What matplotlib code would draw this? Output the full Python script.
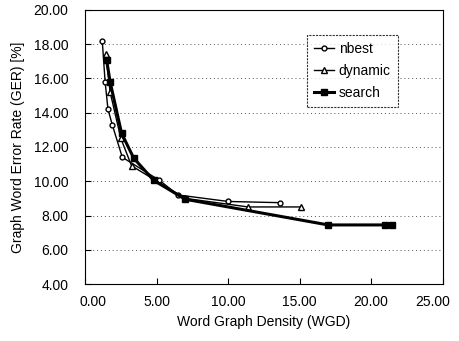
import matplotlib
matplotlib.use("Agg")
import matplotlib.pyplot as plt
from matplotlib.transforms import ScaledTranslation

plt.rcParams['font.family'] = ['Liberation Sans', 'DejaVu Sans']

nbest_x = [1.2, 1.4, 1.6, 1.9, 2.6, 5.2, 6.5, 10.0, 13.6]
nbest_y = [18.2, 15.8, 14.2, 13.3, 11.4, 10.05, 9.2, 8.82, 8.75]
dyn_x = [1.45, 1.75, 2.5, 3.25, 7.0, 11.4, 15.1]
dyn_y = [17.4, 15.2, 12.5, 10.9, 9.0, 8.5, 8.5]
search_x = [1.5, 1.75, 2.55, 3.4, 4.8, 7.0, 17.0, 21.0, 21.5]
search_y = [17.1, 15.8, 12.8, 11.35, 10.05, 8.95, 7.45, 7.45, 7.45]

xticks = [0, 5, 10, 15, 20, 25]
yticks = [4, 6, 8, 10, 12, 14, 16, 18, 20]

fig = plt.figure(figsize=(4.6, 3.41), dpi=100)
ax = fig.add_axes([0.185, 0.167, 0.777, 0.804])

ax.plot(nbest_x, nbest_y, color='black', lw=1.0, marker='o', ms=3.5,
        mfc='white', mec='black', mew=1.0, label='nbest')
ax.plot(dyn_x, dyn_y, color='black', lw=1.0, marker='^', ms=4,
        mfc='white', mec='black', mew=1.0, label='dynamic')
ax.plot(search_x, search_y, color='black', lw=2.2, marker='s', ms=4,
        mfc='black', mec='black', label='search')

ax.set_xlim(0, 25)
ax.set_ylim(4, 20)
ax.set_xticks(xticks)
ax.set_yticks(yticks)
ax.set_xticklabels([f"{v:.2f}" for v in xticks], fontsize=10)
ax.set_yticklabels([f"{v:.2f}" for v in yticks], fontsize=10)
ax.tick_params(axis='x', direction='in', length=4, width=0.8, pad=8)
ax.tick_params(axis='y', direction='in', length=4, width=0.8, pad=12)
labs = ax.get_xticklabels()
labs[0].set_transform(labs[0].get_transform() + ScaledTranslation(8/100, 0, fig.dpi_scale_trans))
labs[-1].set_transform(labs[-1].get_transform() + ScaledTranslation(-10/100, 0, fig.dpi_scale_trans))
for y in yticks[1:-1]:
    ax.axhline(y, color='#555555', lw=0.7, ls=(0, (1, 3)), zorder=0)
for s in ax.spines.values():
    s.set_linewidth(0.8)

ax.set_xlabel('Word Graph Density (WGD)', fontsize=10, labelpad=4)
ax.set_ylabel('Graph Word Error Rate (GER) [%]', fontsize=10, labelpad=6)

leg = ax.legend(loc='upper left', bbox_to_anchor=(0.62, 0.91), fontsize=10,
                frameon=True, fancybox=False, borderpad=0.5, labelspacing=0.6,
                handlelength=1.5, handletextpad=0.3, borderaxespad=0)
leg.get_frame().set_edgecolor('black')
leg.get_frame().set_linewidth(0.8)
leg.get_frame().set_linestyle((0, (2, 1)))

fig.savefig('out.png', dpi=100)
